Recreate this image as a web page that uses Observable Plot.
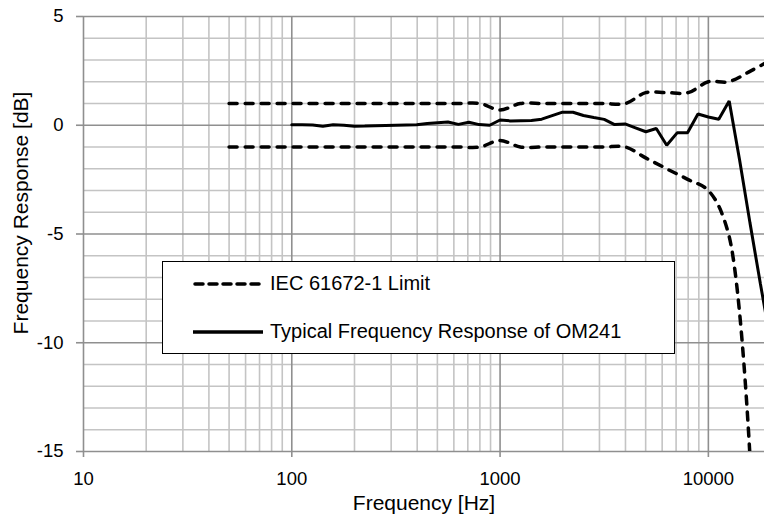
<!DOCTYPE html>
<html><head><meta charset="utf-8">
<script src="https://cdn.jsdelivr.net/npm/d3@7"></script>
<script src="https://cdn.jsdelivr.net/npm/@observablehq/plot@0.6"></script>
<style>
body{margin:0;background:#fff;font-family:"Liberation Sans",Arial,sans-serif;}
#wrap{position:relative;width:764px;height:521px;overflow:hidden;background:#fff;}
#legend{position:absolute;left:162px;top:261px;width:511px;height:91px;border:1.5px solid #000;background:#fff;}
.entry{position:absolute;left:0;height:20px;}
.entry svg{position:absolute;left:30px;top:0;}
.entry span{position:absolute;left:107px;top:-2px;font-size:20px;white-space:nowrap;color:#000;}
</style></head><body><div id="wrap"></div>
<script>
// IEC 61672-1 tolerance limits
const limitFreq = [50,63,80,100,125,160,200,250,315,400,500,630,800,1000,1250,1600,2000,2500,3150,4000,5000,6300,8000,10000,12500,16000,20000];
const limitUpper = [1,1,1,1,1,1,1,1,1,1,1,1,1,0.7,1,1,1,1,1,1,1.5,1.5,1.5,2,2,2.5,3];
const limitLower = [-1,-1,-1,-1,-1,-1,-1,-1,-1,-1,-1,-1,-1,-0.7,-1,-1,-1,-1,-1,-1,-1.5,-2,-2.5,-3,-5,-16,NaN];
// Typical frequency response of OM241
const respFreq = [100,112,126,141,158,178,200,224,251,282,316,355,398,447,501,562,631,708,794,891,1000,1122,1259,1413,1585,1778,1995,2239,2512,2818,3162,3548,3981,4467,5012,5623,6310,7079,7943,8913,10000,11220,12589,14125,15849,17783,19953];
const respDb = [0.02,0.02,0.01,-0.05,0.02,0.00,-0.05,-0.04,-0.02,-0.01,0.00,0.01,0.02,0.08,0.12,0.15,0.04,0.14,0.03,0.00,0.24,0.20,0.21,0.22,0.28,0.44,0.60,0.60,0.45,0.36,0.27,0.03,0.06,-0.12,-0.30,-0.15,-0.92,-0.35,-0.34,0.52,0.38,0.28,1.12,-1.6,-4.5,-7.3,-10.0];
// axes / grid
const xMajor = [10,100,1000,10000];
const xMinor = [20,30,40,50,60,70,80,90,200,300,400,500,600,700,800,900,2000,3000,4000,5000,6000,7000,8000,9000];
const yMajor = [-15,-10,-5,0,5];
const yMinor = [-14,-13,-12,-11,-9,-8,-7,-6,-4,-3,-2,-1,1,2,3,4];
const legendLabels = ["IEC 61672-1 Limit","Typical Frequency Response of OM241"];
const xTitle = "Frequency [Hz]";
const yTitle = "Frequency Response [dB]";

const upper = limitFreq.map((f,i)=>({f, v: limitUpper[i]}));
const lower = limitFreq.map((f,i)=>({f, v: limitLower[i]}));
const resp = respFreq.map((f,i)=>({f, v: respDb[i]}));

const minorC = "#c4c4c4", majorC = "#8f8f8f";
const chart = Plot.plot({
  width: 764, height: 521,
  marginLeft: 83, marginRight: 0, marginTop: 16, marginBottom: 70,
  style: {fontFamily: "'Liberation Sans', Arial, sans-serif", color: "#000", background: "#fff", overflow: "hidden"},
  x: {type: "log", domain: [10, 18600]},
  y: {domain: [-15, 5]},
  marks: [
    Plot.ruleX(xMinor, {stroke: minorC, strokeWidth: 1.6}),
    Plot.ruleY(yMinor, {stroke: minorC, strokeWidth: 1.6}),
    Plot.ruleX(xMajor, {stroke: majorC, strokeWidth: 1.6}),
    Plot.ruleY(yMajor, {stroke: majorC, strokeWidth: 1.6}),
    Plot.axisX({ticks: xMajor, tickFormat: d => String(d), tickSize: 6, tickPadding: 14, stroke: majorC, strokeWidth: 1.6, fill: "#000", fontSize: 18.5, label: null}),
    Plot.axisY({ticks: yMajor, tickFormat: d => String(d), tickSize: 7, tickPadding: 13, stroke: majorC, strokeWidth: 1.6, fill: "#000", fontSize: 18.5, label: null}),
    Plot.text([xTitle], {frameAnchor: "bottom", dy: 58, fontSize: 21, fill: "#000"}),
    Plot.text([yTitle], {frameAnchor: "left", textAnchor: "middle", rotate: -90, dx: -62, dy: -21, fontSize: 21, fill: "#000"}),
    Plot.line(upper, {x: "f", y: "v", stroke: "#000", strokeWidth: 3.5, strokeDasharray: "8,8", strokeLinecap: "round", curve: "catmull-rom", clip: true}),
    Plot.line(lower, {x: "f", y: "v", stroke: "#000", strokeWidth: 3.5, strokeDasharray: "8,8", strokeLinecap: "round", curve: "catmull-rom", clip: true}),
    Plot.line(resp, {x: "f", y: "v", stroke: "#000", strokeWidth: 3, strokeLinejoin: "miter", clip: true})
  ]
});
const wrap = document.getElementById("wrap");
wrap.appendChild(chart);
const lg = document.createElement("div");
lg.id = "legend";
lg.innerHTML = `
<div class="entry" style="top:12px;width:100%"><svg width="72" height="20"><line x1="2" y1="10" x2="70" y2="10" stroke="#000" stroke-width="3.5" stroke-dasharray="8,6" stroke-linecap="round"/></svg><span>${legendLabels[0]}</span></div>
<div class="entry" style="top:60px;width:100%"><svg width="72" height="20"><line x1="0" y1="10" x2="70" y2="10" stroke="#000" stroke-width="3.5"/></svg><span>${legendLabels[1]}</span></div>`;
wrap.appendChild(lg);
</script></body></html>
